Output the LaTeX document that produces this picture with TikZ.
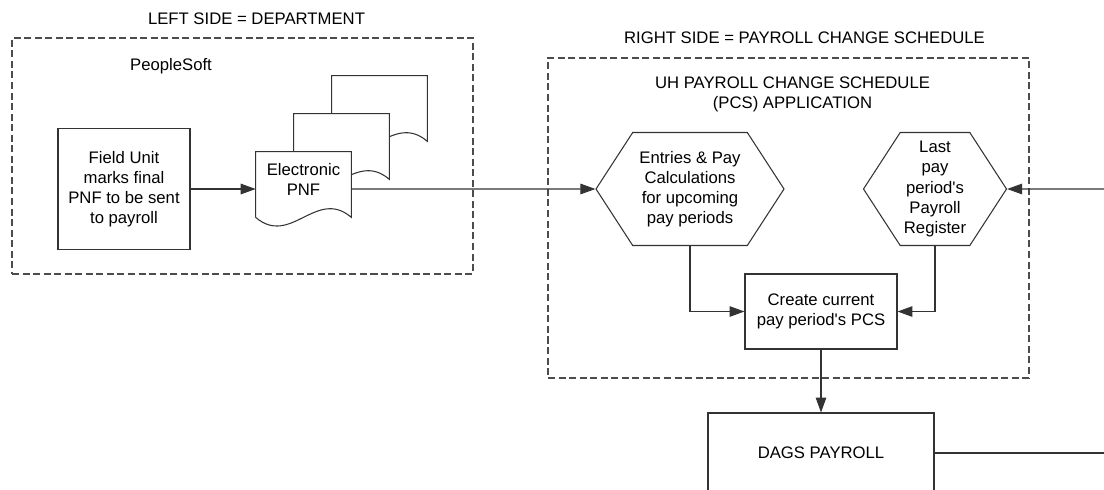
\documentclass[tikz,border=0pt]{standalone}
\usepackage{fontspec}
\setmainfont{Liberation Sans}
\usetikzlibrary{shapes,arrows,arrows.meta,backgrounds}

\begin{document}
\begin{tikzpicture}[auto, node distance=3cm, >={Triangle[length=8.5pt,width=6pt]}, font=\fontsize{9.5}{11.4}\selectfont]
	\tikzset{
		process/.style={rectangle, draw=black!80, line width=0.6pt, align=center, inner sep=2pt},
		hexa/.style={signal, signal to=east and west, signal pointer angle=114, draw=black!80, line width=0.6pt, align=center, minimum height=2.26cm, inner sep=1pt},
		sheet/.style={rectangle, minimum width=1.9cm, minimum height=1.1cm, align=center},
		group/.style={rectangle, draw=black!70, line width=0.6pt, dash pattern=on 4pt off 2pt},
		arrow/.style={draw=black!80, line width=0.6pt, ->},
		wire/.style={draw=black!80, line width=0.6pt},
	}
	\useasboundingbox (0,0) rectangle (22.08,-9.78);
	\clip (0,0) rectangle (22.08,-9.78);
	%groups
	\node[group, minimum width=9.22cm, minimum height=4.72cm] (dept) at (4.85,-3.12) {};
	\node (depttitle) at (5.13,-0.38) {LEFT SIDE = DEPARTMENT};
	\node (peoplesoft) at (3.42,-1.33) {PeopleSoft};
	\node[group, minimum width=9.62cm, minimum height=6.4cm] (pcs) at (15.77,-4.36) {};
	\node (pcstitle) at (16.09,-0.76) {RIGHT SIDE = PAYROLL CHANGE SCHEDULE};
	\node[align=center] (pcsapp) at (15.85,-1.88) {UH PAYROLL CHANGE SCHEDULE\\(PCS) APPLICATION};
	%steps
	\node[process, minimum width=2.64cm, minimum height=2.42cm] (field) at (2.48,-3.78) {Field Unit\\marks final\\PNF to be sent\\to payroll};
	\node[sheet, right of=field, xshift=0.59cm, yshift=0.19cm] (pnfa) {Electronic\\PNF};
	\node[sheet] (pnfb) at ([shift={(0.76,0.76)}]pnfa) {};
	\node[sheet] (pnfc) at ([shift={(0.76,0.76)}]pnfb) {};
	\node[hexa, minimum width=3.76cm, right of=pnfa, xshift=4.73cm, yshift=-0.19cm] (entries) {Entries \& Pay\\Calculations\\for upcoming\\pay periods};
	\node[hexa, minimum width=2.86cm, right of=entries, xshift=1.9cm] (lastreg) {Last\\pay\\period\textquotesingle s\\Payroll\\Register};
	\node[process, minimum width=3.04cm, minimum height=1.5cm, below of=entries, xshift=2.62cm, yshift=0.55cm] (create) {Create current\\pay period\textquotesingle s PCS};
	\node[process, minimum width=4.52cm, minimum height=1.6cm, below of=create, yshift=0.17cm] (dags) {DAGS PAYROLL};
	\coordinate (inright) at (22.08,-3.78);
	\coordinate (outright) at (dags.east -| inright);
	%paper stack behind the text
	\begin{scope}[on background layer]
		\foreach \p in {pnfc,pnfb,pnfa}
			\draw[wire, fill=white] ([yshift=-0.2cm]\p.south west) -- (\p.north west) -- (\p.north east) -- ([yshift=-0.2cm]\p.south east) .. controls +(-0.7,0.6) and +(0.7,-0.6) .. ([yshift=-0.2cm]\p.south west);
	\end{scope}
	%draw arrows
	\draw[arrow] (field) -- (field -| pnfa.west);
	\draw[arrow] (pnfa.east |- entries) -- (entries);
	\draw[arrow] (inright) -- (lastreg);
	\draw[arrow] (entries.south) |- (create);
	\draw[arrow] (lastreg.south) |- (create);
	\draw[arrow] (create) -- (dags);
	\draw[wire] (dags) -- (outright);
\end{tikzpicture}
\end{document}
